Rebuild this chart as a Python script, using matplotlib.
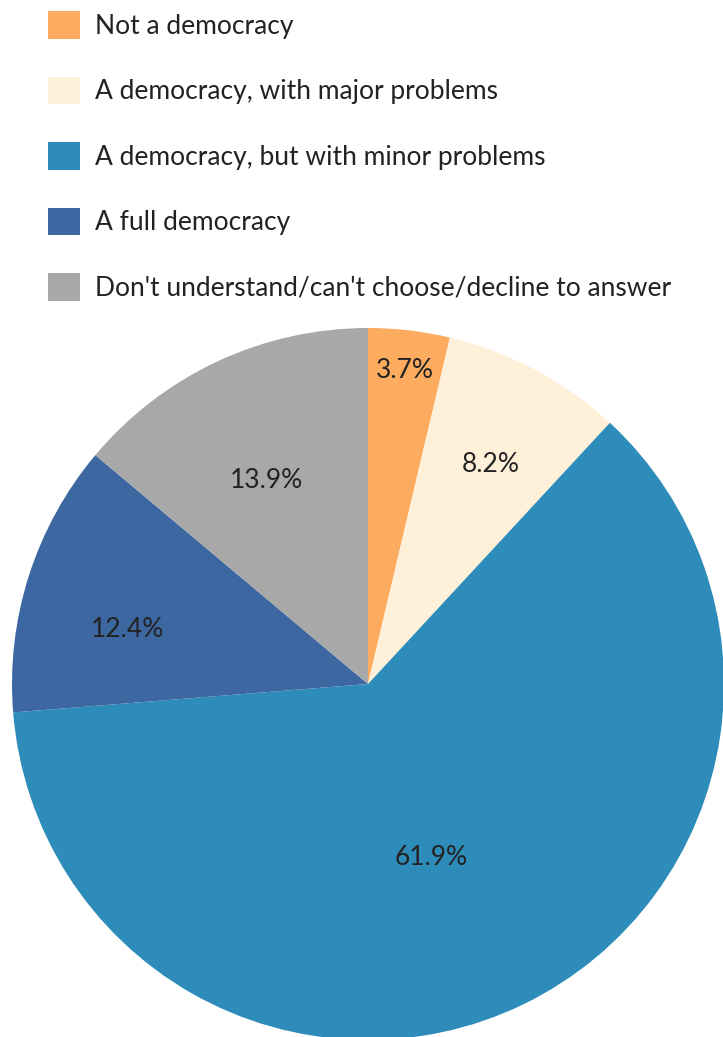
import numpy as np
import matplotlib.pyplot as plt

labels = ['Not a democracy', 'A democracy, with major problems',
          'A democracy, but with minor problems', 'A full democracy',
          "Don't understand/can't choose/decline to answer"]
values = [3.7, 8.2, 61.9, 12.4, 13.9]
colors = ['#fdac5f', '#fff1d9', '#2d8cba', '#3d67a0', '#a8a8a8']

# placement of the percentage labels: radius fraction and angle shift (deg)
label_dist = [0.888, 0.706, 0.52, 0.692, 0.639]
label_shift = [0, -1.2, -5.8, 4.9, 1.6]

plt.rcParams['font.family'] = ['Lato', 'DejaVu Sans']

fig = plt.figure(figsize=(7.23, 10.37), dpi=100)
ax = fig.add_axes([0.0166, -0.0029, 0.9848, 0.6866])

wedges, _ = ax.pie(values, colors=colors, startangle=90, counterclock=False,
                   radius=1.0, wedgeprops=dict(linewidth=0))
for w, v, d, s in zip(wedges, values, label_dist, label_shift):
    mid = np.deg2rad((w.theta1 + w.theta2) / 2 + s)
    ax.text(d * np.cos(mid), d * np.sin(mid), f'{v:.1f}%', ha='center', va='center',
            fontsize=19, color='#222222')
ax.set_xlim(-1, 1)
ax.set_ylim(-1, 1)
ax.set_aspect('equal')
ax.axis('off')

fig.legend(wedges, labels, loc='upper left', bbox_to_anchor=(0.0664, 0.989),
           frameon=False, fontsize=19, handlelength=1.21, handleheight=1.21,
           handletextpad=0.57, labelspacing=1.44, borderaxespad=0, borderpad=0,
           labelcolor='#222222')

fig.savefig('out.png', dpi=100)
